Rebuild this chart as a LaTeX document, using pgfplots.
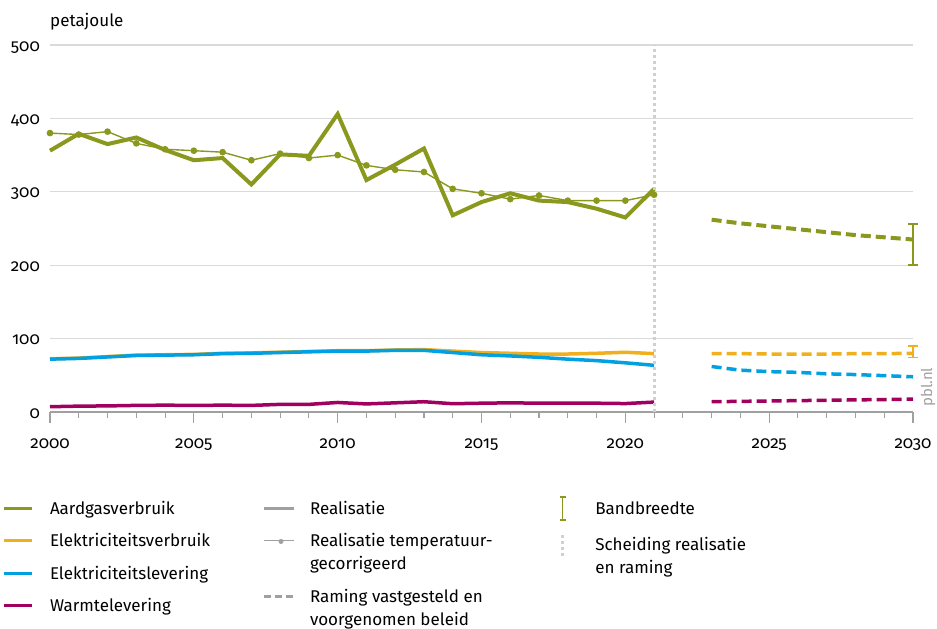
\documentclass[border=0pt]{standalone}
\usepackage{pgfplots}
\pgfplotsset{compat=1.18}
\usepackage{fontspec}
\setmainfont{Fira Sans}[Numbers=OldStyle]
\definecolor{gasc}{RGB}{138,152,30}
\definecolor{elvc}{RGB}{240,176,30}
\definecolor{ellc}{RGB}{0,160,225}
\definecolor{wrmc}{RGB}{160,0,95}
\definecolor{gridc}{RGB}{218,218,218}
\definecolor{sepc}{RGB}{208,208,208}
\definecolor{legc}{RGB}{160,160,160}
\pgfplotsset{
  hidlegend/.style={
    hide axis, scale only axis, width=10pt, height=10pt,
    xmin=0, xmax=1, ymin=0, ymax=1, anchor=north west,
    legend style={at={(0,1)}, anchor=north west, draw=none, fill=none,
      inner sep=0pt, outer sep=0pt, row sep=11pt,
      font=\fontsize{17pt}{23pt}\selectfont,
      cells={anchor=base west, align=left, inner sep=0pt}},
  },
}
\begin{document}
\begin{tikzpicture}[font=\fontsize{17pt}{23pt}\selectfont]
\useasboundingbox (0pt,0pt) rectangle (937pt,-629pt);
\begin{axis}[
  at={(50pt,-412pt)}, anchor=south west,
  scale only axis, width=863pt, height=367pt,
  xmin=2000, xmax=2030, ymin=0, ymax=500,
  axis x line*=bottom, axis y line*=left,
  y axis line style={draw=none},
  x axis line style={color=legc, line width=1.2pt},
  xtick={2000,2005,...,2030},
  minor x tick num=4,
  ytick={0,100,...,500},
  tick align=outside,
  major tick length=11pt, minor tick length=6pt,
  xtick style={color=legc, line width=1.1pt},
  ytick style={draw=none},
  ymajorgrids, grid style={color=gridc, line width=1.3pt},
  /pgf/number format/1000 sep={},
  /pgf/number format/assume math mode=true,
  xticklabel style={anchor=base, inner sep=0pt, yshift=-25pt, text=black},
  yticklabel style={anchor=base east, inner sep=0pt, xshift=1pt, yshift=-6pt, text=black},
  clip=false,
]
% Aardgas temperatuurgecorrigeerd
\addplot[gasc, line width=1.4pt, mark=*, mark size=2.6pt, mark options={solid}] coordinates {
(2000,380)(2001,378)(2002,382)(2003,366)(2004,358)(2005,356)(2006,354)(2007,343)
(2008,352)(2009,346)(2010,350)(2011,336)(2012,330)(2013,327)(2014,304)(2015,298)
(2016,290)(2017,295)(2018,288)(2019,288)(2020,288)(2021,296)};
% Aardgas realisatie
\addplot[gasc, line width=4pt, mark=none, line join=miter] coordinates {
(2000,356)(2001,379)(2002,365)(2003,374)(2004,357)(2005,343)(2006,346)(2007,310)
(2008,351)(2009,349)(2010,406)(2011,316)(2012,337)(2013,359)(2014,268)(2015,286)
(2016,298)(2017,288)(2018,286)(2019,277)(2020,265)(2021,304)};
% Aardgas raming
\addplot[gasc, line width=4pt, mark=none, dash pattern=on 10pt off 5pt] coordinates {
(2023,262)(2024,257)(2025,253)(2026,249)(2027,245)(2028,241)(2029,238)(2030,235)};
% Warmtelevering
\addplot[wrmc, line width=3.5pt, mark=none] coordinates {
(2000,7.2)(2001,8)(2002,8.3)(2003,9)(2004,9.3)(2005,9)(2006,9.3)(2007,9)
(2008,10.4)(2009,10.4)(2010,13)(2011,11)(2012,12.5)(2013,14)(2014,11.3)(2015,12)
(2016,12.5)(2017,12)(2018,12.2)(2019,12)(2020,11.5)(2021,13.5)};
\addplot[wrmc, line width=3.5pt, mark=none, dash pattern=on 10pt off 5pt] coordinates {
(2023,14)(2024,14.5)(2025,15)(2026,15.5)(2027,16)(2028,16.5)(2029,17)(2030,17.5)};
% Elektriciteitsverbruik
\addplot[elvc, line width=3.5pt, mark=none] coordinates {
(2000,72.5)(2001,73.5)(2002,75.5)(2003,77.5)(2004,78)(2005,78.5)(2006,80)(2007,80.5)
(2008,81.5)(2009,82.5)(2010,83.5)(2011,83.5)(2012,84.5)(2013,85)(2014,83)(2015,81)
(2016,80)(2017,79)(2018,79)(2019,80)(2020,81.4)(2021,79.5)};
\addplot[elvc, line width=3.5pt, mark=none, dash pattern=on 10pt off 5pt] coordinates {
(2023,79.5)(2024,79.5)(2025,79)(2026,79)(2027,79)(2028,79.5)(2029,79.5)(2030,80)};
% Elektriciteitslevering
\addplot[ellc, line width=3.5pt, mark=none] coordinates {
(2000,72)(2001,73)(2002,75)(2003,77)(2004,77.5)(2005,78)(2006,79.5)(2007,80)
(2008,81)(2009,82)(2010,83)(2011,83)(2012,84)(2013,84)(2014,81)(2015,78)
(2016,76.4)(2017,74.5)(2018,72)(2019,70)(2020,67)(2021,63.6)};
\addplot[ellc, line width=3.5pt, mark=none, dash pattern=on 10pt off 5pt] coordinates {
(2023,62)(2024,57)(2025,55)(2026,54)(2027,52)(2028,51)(2029,49.5)(2030,48)};
% Bandbreedte
\addplot[gasc, mark=none, line width=1.5pt,
  error bars/.cd, y dir=both, y explicit, error mark=|,
  error bar style={gasc, line width=1.5pt},
  error mark options={gasc, line width=1.5pt, mark size=5pt}]
  coordinates {(2030,228) +- (0,28)};
\addplot[elvc, mark=none, line width=1.5pt,
  error bars/.cd, y dir=both, y explicit, error mark=|,
  error bar style={elvc, line width=1.5pt},
  error mark options={elvc, line width=1.5pt, mark size=5pt}]
  coordinates {(2030,82.25) +- (0,7.75)};
% Scheiding
\addplot[sepc, line width=3pt, dash pattern=on 3pt off 3pt, mark=none] coordinates {(2021,0)(2021,500)};
\node[anchor=base west, inner sep=0pt] at ([yshift=19pt]rel axis cs:0,1) {petajoule};
\node[rotate=90, anchor=base west, inner sep=0pt, text=legc, font=\fontsize{15pt}{18pt}\selectfont] at ([xshift=19pt,yshift=5pt]rel axis cs:1,0) {pbl.nl};
\end{axis}
% Legend column 1
\begin{axis}[hidlegend, at={(2pt,-496pt)}, legend style={column sep=15pt}]
\addlegendimage{legend image code/.code={\draw[gasc, line width=3pt] (0pt,6pt) -- (28pt,6pt);}}
\addlegendentry{\strut Aardgasverbruik}
\addlegendimage{legend image code/.code={\draw[elvc, line width=3pt] (0pt,6pt) -- (28pt,6pt);}}
\addlegendentry{\strut Elektriciteitsverbruik}
\addlegendimage{legend image code/.code={\draw[ellc, line width=3pt] (0pt,6pt) -- (28pt,6pt);}}
\addlegendentry{\strut Elektriciteitslevering}
\addlegendimage{legend image code/.code={\draw[wrmc, line width=3pt] (0pt,6pt) -- (28pt,6pt);}}
\addlegendentry{\strut Warmtelevering}
\end{axis}
% Legend column 2
\begin{axis}[hidlegend, at={(262pt,-496pt)}, legend style={column sep=13pt}]
\addlegendimage{legend image code/.code={\draw[legc, line width=3pt] (0pt,6pt) -- (30pt,6pt);}}
\addlegendentry{\strut Realisatie}
\addlegendimage{legend image code/.code={\draw[legc, line width=1.4pt] (0pt,29pt) -- (30pt,29pt) node[midway, circle, fill=legc, inner sep=0pt, minimum size=5pt]{};}}
\addlegendentry{\strut Realisatie temperatuur-\\\strut gecorrigeerd}
\addlegendimage{legend image code/.code={\draw[legc, line width=3pt, dash pattern=on 7pt off 4pt] (0pt,29pt) -- (30pt,29pt);}}
\addlegendentry{\strut Raming vastgesteld en\\\strut voorgenomen beleid}
\end{axis}
% Legend column 3
\begin{axis}[hidlegend, at={(559pt,-496pt)}, legend style={column sep=27pt}]
\addlegendimage{legend image code/.code={\draw[gasc, line width=1.3pt] (0pt,-6pt) -- (6pt,-6pt) (3pt,-6pt) -- (3pt,17pt) (0pt,17pt) -- (6pt,17pt);}}
\addlegendentry{\strut Bandbreedte}
\addlegendimage{legend image code/.code={\draw[sepc, line width=2.5pt, dash pattern=on 3pt off 3pt] (3pt,17pt) -- (3pt,40pt); \path (0pt,23pt) (6pt,23pt);}}
\addlegendentry{\strut Scheiding realisatie\\\strut en raming}
\end{axis}
\end{tikzpicture}
\end{document}
